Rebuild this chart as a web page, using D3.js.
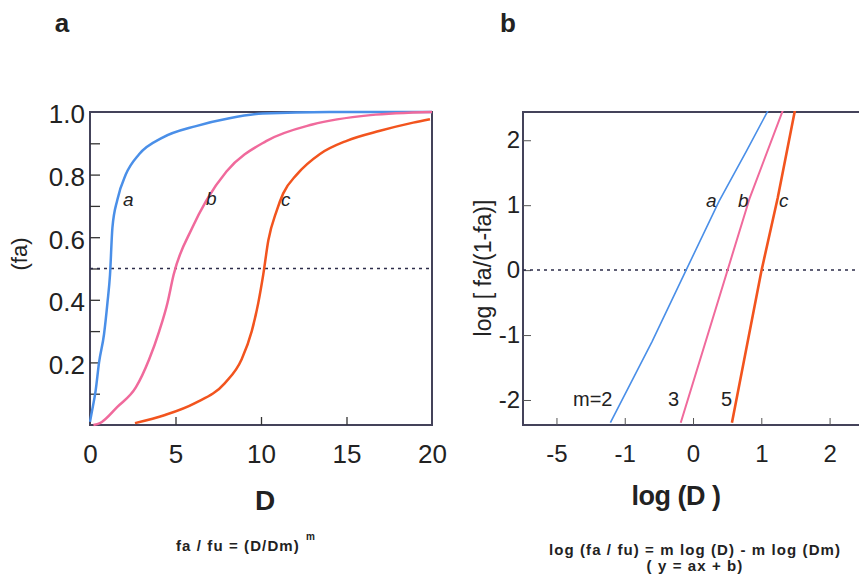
<!DOCTYPE html>
<head>
  <meta charset="utf-8">
  <script src="https://d3js.org/d3.v7.min.js"></script>
  <style>
    body { margin:0; background:#fff; }
    text { font-family: "Liberation Sans", Arial, sans-serif; fill:#222; }
  </style>
</head>
<body>
<script>
var width = 859, height = 583;

// panel a : dose-effect curves, [D, fa]
var curveA = [[0,0.01],[0.1,0.04],[0.33,0.11],[0.53,0.2],[0.82,0.29],[1.02,0.39],[1.17,0.48],[1.31,0.63],
              [1.6,0.72],[2.09,0.8],[2.87,0.865],[4.24,0.918],[6.2,0.955],[8.15,0.98],[10.1,0.995],[14,1.0],[20,1.0]];
var curveB = [[0.2,0.0],[0.58,0.006],[1.6,0.058],[2.68,0.12],[3.46,0.21],[4.05,0.3],[4.53,0.39],[4.89,0.48],
              [5.98,0.63],[6.8,0.717],[7.98,0.81],[10.3,0.907],[13,0.96],[16.4,0.99],[20,1.0]];
var curveC = [[2.63,0.006],[4.39,0.032],[6.14,0.07],[7.89,0.134],[8.87,0.21],[9.46,0.3],[9.84,0.39],[10.13,0.48],
              [10.43,0.59],[10.92,0.685],[11.3,0.74],[12.09,0.8],[13.45,0.866],[15.01,0.908],[16.96,0.94],[18.9,0.966],[19.88,0.977]];

// panel b : median-effect plot, [log D, log(fa/(1-fa))]
var lineA = [[-1.21,-2.35],[-0.6,-1.1],[-0.11,-0.02],[0.38,1.06],[0.78,1.83],[1.12,2.5]];
var lineB = [[-0.18,-2.35],[0.5,-0.02],[0.83,1.11],[1.33,2.5]];
var lineC = [[0.57,-2.35],[1.0,-0.02],[1.24,1.11],[1.5,2.5]];

var leftYTicks = [0.1,0.2,0.3,0.4,0.5,0.6,0.7,0.8,0.9];
var leftYLabels = [0.2,0.4,0.6,0.8,1.0];
var leftXTicks = [5,10,15];
var leftXLabels = [0,5,10,15,20];
var rightYTicks = [-2,-1,0,1,2];
var rightYLabels = ["-2","-1","0","1","2"];
var rightXTicks = [-2,-1,0,1,2];
var rightXLabels = ["-5","-1","0","1","2"];

var colA = "#4a8fe8", colB = "#f06a9c", colC = "#f2541e";

var svg = d3.select("body").append("svg")
    .attr("width", width).attr("height", height);

// ---------- panel a
var xL = d3.scaleLinear().domain([0,20]).range([90,432]);
var yL = d3.scaleLinear().domain([0,1]).range([425,112]);

svg.append("clipPath").attr("id","clipL").append("rect")
    .attr("x",89).attr("y",110).attr("width",345).attr("height",317);

svg.append("rect").attr("x",xL(0)).attr("y",yL(1))
    .attr("width",xL(20)-xL(0)).attr("height",yL(0)-yL(1))
    .attr("fill","none").attr("stroke","#44435a").attr("stroke-width",2);

var gy = svg.append("g").attr("transform","translate(" + xL(0) + ",0)")
    .call(d3.axisLeft(yL).tickValues(leftYTicks).tickSize(-10).tickFormat(""));
gy.select(".domain").remove();
gy.selectAll("line").attr("stroke","#333").attr("stroke-width",1.3);

var gyl = svg.append("g").attr("transform","translate(" + xL(0) + ",0)")
    .call(d3.axisLeft(yL).tickValues(leftYLabels).tickSize(0).tickPadding(5).tickFormat(d3.format(".1f")));
gyl.select(".domain").remove();
gyl.selectAll("text").attr("font-size",26).attr("dy","0.42em").attr("font-family","Liberation Sans, Arial").attr("fill","#222");

var gx = svg.append("g").attr("transform","translate(0," + yL(0) + ")")
    .call(d3.axisBottom(xL).tickValues(leftXTicks).tickSize(-8).tickFormat(""));
gx.select(".domain").remove();
gx.selectAll("line").attr("stroke","#333").attr("stroke-width",1.3);

var gxl = svg.append("g").attr("transform","translate(0," + yL(0) + ")")
    .call(d3.axisBottom(xL).tickValues(leftXLabels).tickSize(0).tickPadding(20));
gxl.select(".domain").remove();
gxl.selectAll("text").attr("font-size",26).attr("font-family","Liberation Sans, Arial").attr("fill","#222");

svg.append("line").attr("x1",xL(0)).attr("x2",xL(20)).attr("y1",yL(0.5)).attr("y2",yL(0.5))
    .attr("stroke","#2d2d4a").attr("stroke-width",1.5).attr("stroke-dasharray","3,4");

var lineL = d3.line().x(function(d){ return xL(d[0]); }).y(function(d){ return yL(d[1]); })
    .curve(d3.curveMonotoneX);

[[curveA,colA],[curveB,colB],[curveC,colC]].forEach(function(c) {
  svg.append("path").datum(c[0]).attr("d",lineL).attr("clip-path","url(#clipL)")
     .attr("fill","none").attr("stroke",c[1]).attr("stroke-width",2.5);
});

svg.append("text").attr("x",123).attr("y",206).attr("font-size",19).attr("font-style","italic").text("a");
svg.append("text").attr("x",206).attr("y",205).attr("font-size",19).attr("font-style","italic").text("b");
svg.append("text").attr("x",281).attr("y",206).attr("font-size",19).attr("font-style","italic").text("c");

svg.append("text").attr("transform","translate(27,254) rotate(-90)").attr("text-anchor","middle")
    .attr("font-size",22).text("(fa)");
svg.append("text").attr("x",265).attr("y",510).attr("text-anchor","middle")
    .attr("font-size",28).attr("font-weight","bold").attr("fill","#111").text("D");
svg.append("text").attr("x",62).attr("y",32).attr("text-anchor","middle")
    .attr("font-size",26).attr("font-weight","bold").attr("fill","#111").text("a");

svg.append("text").attr("x",176).attr("y",551).attr("font-size",15).attr("font-weight","bold")
    .attr("letter-spacing",1.1).attr("fill","#111").text("fa / fu = (D/Dm)");
svg.append("text").attr("x",306).attr("y",540).attr("font-size",10).attr("font-weight","bold")
    .attr("fill","#111").text("m");

// ---------- panel b
var xR = d3.scaleLinear().domain([-2.49,2.46]).range([523,861]);
var yR = d3.scaleLinear().domain([-2.385,2.435]).range([425,112]);

svg.append("clipPath").attr("id","clipR").append("rect")
    .attr("x",522).attr("y",111).attr("width",340).attr("height",315);

svg.append("rect").attr("x",xR.range()[0]).attr("y",yR.range()[1])
    .attr("width",xR.range()[1]-xR.range()[0]).attr("height",yR.range()[0]-yR.range()[1])
    .attr("fill","none").attr("stroke","#44435a").attr("stroke-width",2);

var ry = svg.append("g").attr("transform","translate(" + xR.range()[0] + ",0)")
    .call(d3.axisLeft(yR).tickValues(rightYTicks).tickSize(-8).tickPadding(3)
          .tickFormat(function(d,i){ return rightYLabels[i]; }));
ry.select(".domain").remove();
ry.selectAll("line").attr("stroke","#555").attr("stroke-width",1);
ry.selectAll("text").attr("font-size",24).attr("font-family","Liberation Sans, Arial").attr("fill","#222");

var rx = svg.append("g").attr("transform","translate(0," + yR.range()[0] + ")")
    .call(d3.axisBottom(xR).tickValues(rightXTicks).tickSize(-7).tickPadding(20)
          .tickFormat(function(d,i){ return rightXLabels[i]; }));
rx.select(".domain").remove();
rx.selectAll("line").attr("stroke","#555").attr("stroke-width",1);
rx.selectAll("text").attr("font-size",24).attr("font-family","Liberation Sans, Arial").attr("fill","#222");

svg.append("line").attr("x1",xR.range()[0]).attr("x2",xR.range()[1]).attr("y1",yR(0)).attr("y2",yR(0))
    .attr("stroke","#2d2d4a").attr("stroke-width",1.5).attr("stroke-dasharray","3,4");

var lineRgen = d3.line().x(function(d){ return xR(d[0]); }).y(function(d){ return yR(d[1]); });

[[lineA,colA,1.6],[lineB,colB,2],[lineC,colC,2.6]].forEach(function(c) {
  svg.append("path").datum(c[0]).attr("d",lineRgen).attr("clip-path","url(#clipR)")
     .attr("fill","none").attr("stroke",c[1]).attr("stroke-width",c[2]);
});

svg.append("text").attr("x",706).attr("y",207).attr("font-size",19).attr("font-style","italic").text("a");
svg.append("text").attr("x",738).attr("y",207).attr("font-size",19).attr("font-style","italic").text("b");
svg.append("text").attr("x",779).attr("y",207).attr("font-size",19).attr("font-style","italic").text("c");
svg.append("text").attr("x",573).attr("y",406).attr("font-size",20).text("m=2");
svg.append("text").attr("x",668).attr("y",406).attr("font-size",20).text("3");
svg.append("text").attr("x",721).attr("y",406).attr("font-size",20).text("5");

svg.append("text").attr("transform","translate(491,268) rotate(-90)").attr("text-anchor","middle")
    .attr("font-size",23).text("log [ fa/(1-fa)]");
svg.append("text").attr("x",676).attr("y",505).attr("text-anchor","middle")
    .attr("font-size",27).attr("font-weight","bold").attr("letter-spacing",-0.5).attr("fill","#111").text("log (D )");
svg.append("text").attr("x",508).attr("y",32).attr("text-anchor","middle")
    .attr("font-size",26).attr("font-weight","bold").attr("fill","#111").text("b");

svg.append("text").attr("x",695).attr("y",555).attr("text-anchor","middle").attr("font-size",15)
    .attr("font-weight","bold").attr("letter-spacing",1.1).attr("fill","#111")
    .text("log (fa / fu) = m log (D) - m log (Dm)");
svg.append("text").attr("x",695).attr("y",571).attr("text-anchor","middle").attr("font-size",15)
    .attr("font-weight","bold").attr("letter-spacing",1.1).attr("fill","#111")
    .text("( y = ax + b)");
</script>
</body>
